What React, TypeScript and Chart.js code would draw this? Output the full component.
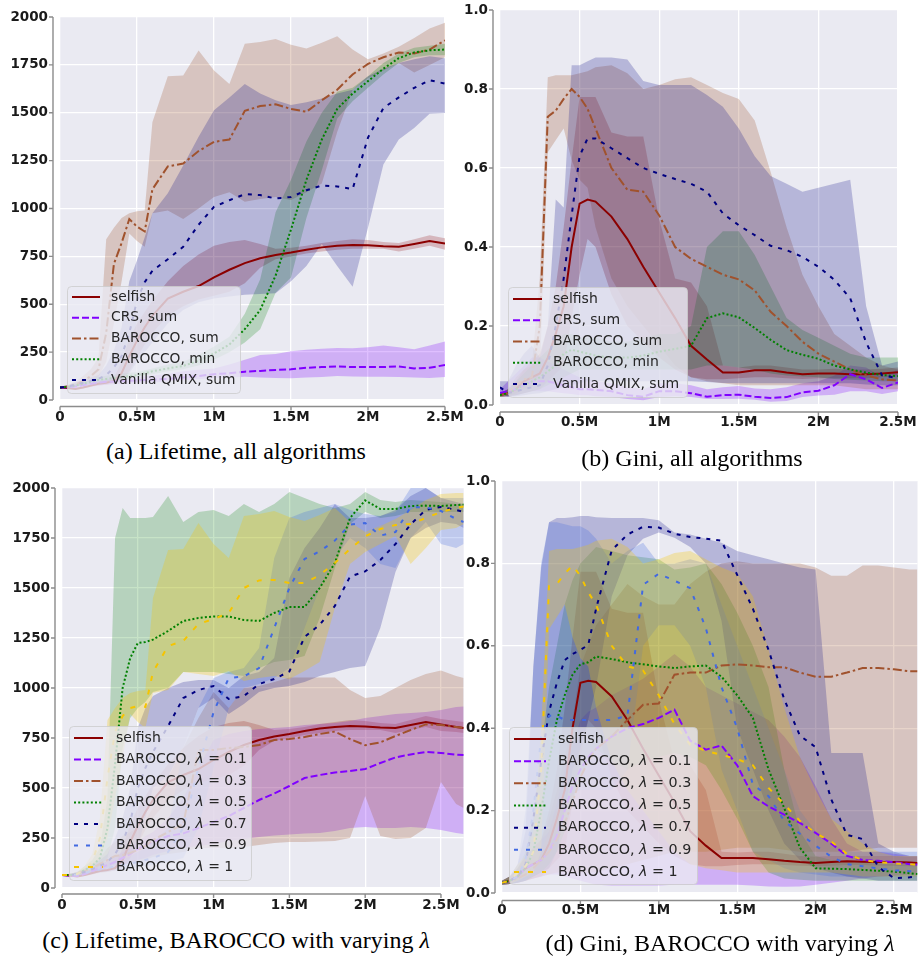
import React, { useEffect, useRef } from 'react';
import { Chart, registerables } from 'chart.js';

Chart.register(...registerables);

// ---------------- data (x in million steps) ----------------
const XS_AB = [0, 0.05, 0.1, 0.15, 0.2, 0.25, 0.3, 0.35, 0.4, 0.45, 0.5, 0.55, 0.6, 0.7, 0.8, 0.9, 1.0, 1.1, 1.2, 1.3, 1.4, 1.5, 1.6, 1.7, 1.8, 1.9, 2.0, 2.1, 2.2, 2.3, 2.4, 2.5];
const XS_CD = [0, 0.05, 0.1, 0.15, 0.2, 0.25, 0.3, 0.35, 0.4, 0.45, 0.5, 0.55, 0.6, 0.7, 0.8, 0.9, 1.0, 1.1, 1.2, 1.3, 1.4, 1.5, 1.6, 1.7, 1.8, 1.9, 2.0, 2.1, 2.2, 2.3, 2.4, 2.5, 2.6, 2.65];
const X_TICKS = [0, 0.5, 1, 1.5, 2, 2.5];
const LIFE_TICKS = [0, 250, 500, 750, 1000, 1250, 1500, 1750, 2000];
const GINI_TICKS = [0, 0.2, 0.4, 0.6, 0.8, 1.0];

const LABELS_AB = ['selfish', 'CRS, sum', 'BAROCCO, sum', 'BAROCCO, min', 'Vanilla QMIX, sum'];
const LABELS_CD = ['selfish', 'BAROCCO, λ = 0.1', 'BAROCCO, λ = 0.3', 'BAROCCO, λ = 0.5', 'BAROCCO, λ = 0.7', 'BAROCCO, λ = 0.9', 'BAROCCO, λ = 1'];
const CAPTIONS = ['(a) Lifetime, all algorithms', '(b) Gini, all algorithms', '(c) Lifetime, BAROCCO with varying λ', '(d) Gini, BAROCCO with varying λ'];

// (a) Lifetime, all algorithms
const A_SELFISH = [65, 62, 58, 65, 75, 85, 90, 100, 140, 230, 310, 380, 440, 530, 565, 595, 640, 680, 715, 740, 757, 770, 785, 797, 805, 810, 808, 803, 800, 815, 830, 817];
const A_SELFISH_LO = [62, 58, 55, 60, 68, 76, 80, 88, 100, 150, 220, 290, 350, 440, 490, 525, 545, 565, 610, 690, 735, 750, 765, 775, 785, 790, 790, 790, 775, 790, 805, 785];
const A_SELFISH_HI = [68, 66, 63, 72, 84, 95, 102, 115, 200, 320, 400, 460, 520, 620, 700, 760, 805, 825, 835, 815, 790, 795, 805, 820, 830, 840, 835, 825, 820, 840, 860, 845];
const A_CRS = [65, 67, 70, 78, 85, 90, 95, 97, 100, 100, 102, 104, 106, 110, 118, 125, 135, 140, 148, 152, 157, 160, 168, 172, 175, 172, 173, 172, 175, 165, 168, 183];
const A_CRS_LO = [62, 62, 63, 68, 72, 76, 80, 82, 85, 86, 88, 90, 92, 97, 103, 108, 115, 118, 122, 118, 115, 113, 118, 120, 125, 123, 122, 121, 120, 118, 115, 120];
const A_CRS_HI = [68, 72, 78, 88, 98, 105, 110, 113, 116, 118, 120, 124, 128, 136, 150, 158, 165, 185, 210, 235, 240, 255, 262, 268, 272, 270, 275, 285, 275, 265, 285, 305];
const A_BSUM = [65, 70, 80, 100, 125, 160, 350, 710, 820, 945, 905, 880, 1100, 1220, 1235, 1300, 1348, 1360, 1510, 1535, 1544, 1520, 1505, 1565, 1620, 1700, 1755, 1790, 1815, 1810, 1830, 1878];
const A_BSUM_LO = [62, 64, 70, 85, 100, 120, 200, 400, 620, 870, 830, 800, 975, 990, 945, 1000, 1060, 1085, 1035, 1050, 1060, 1045, 1085, 1130, 1400, 1620, 1680, 1720, 1760, 1710, 1750, 1790];
const A_BSUM_HI = [68, 78, 95, 125, 160, 220, 840, 900, 950, 975, 985, 990, 1450, 1690, 1695, 1825, 1720, 1650, 1860, 1870, 1885, 1855, 1835, 1865, 1900, 1830, 1780, 1810, 1845, 1890, 1940, 1970];
const A_BMIN = [65, 68, 75, 85, 95, 105, 110, 115, 120, 125, 130, 140, 150, 165, 178, 205, 243, 290, 370, 470, 650, 890, 1150, 1360, 1520, 1600, 1665, 1730, 1785, 1815, 1826, 1830];
const A_BMIN_LO = [62, 64, 68, 76, 84, 92, 96, 100, 104, 110, 120, 128, 135, 150, 160, 180, 210, 250, 300, 370, 560, 640, 950, 1200, 1470, 1560, 1630, 1700, 1760, 1790, 1800, 1800];
const A_BMIN_HI = [68, 72, 82, 95, 108, 120, 126, 132, 138, 142, 145, 155, 165, 185, 200, 235, 280, 330, 450, 630, 980, 1150, 1350, 1500, 1610, 1630, 1690, 1760, 1810, 1840, 1850, 1860];
const A_QMIX = [65, 70, 80, 90, 100, 110, 130, 170, 230, 350, 520, 615, 675, 735, 800, 915, 1009, 1043, 1075, 1070, 1052, 1060, 1095, 1120, 1115, 1101, 1370, 1525, 1580, 1630, 1670, 1652];
const A_QMIX_LO = [62, 64, 70, 76, 82, 88, 95, 100, 110, 140, 200, 250, 300, 400, 470, 510, 530, 540, 550, 553, 557, 620, 700, 815, 700, 591, 900, 1230, 1360, 1420, 1495, 1499];
const A_QMIX_HI = [68, 78, 92, 105, 118, 130, 180, 260, 380, 620, 730, 850, 975, 1080, 1225, 1375, 1513, 1580, 1650, 1600, 1565, 1540, 1555, 1575, 1600, 1620, 1690, 1730, 1760, 1780, 1795, 1785];

// (b) Gini, all algorithms
const B_SELFISH = [0.025, 0.03, 0.04, 0.06, 0.07, 0.08, 0.12, 0.18, 0.25, 0.40, 0.51, 0.52, 0.515, 0.477, 0.42, 0.35, 0.285, 0.22, 0.15, 0.115, 0.082, 0.082, 0.088, 0.088, 0.082, 0.078, 0.08, 0.08, 0.078, 0.078, 0.08, 0.083];
const B_SELFISH_LO = [0.02, 0.022, 0.025, 0.03, 0.035, 0.04, 0.06, 0.08, 0.1, 0.22, 0.33, 0.42, 0.40, 0.28, 0.2, 0.16, 0.12, 0.09, 0.07, 0.065, 0.065, 0.068, 0.07, 0.07, 0.068, 0.066, 0.068, 0.068, 0.068, 0.068, 0.07, 0.072];
const B_SELFISH_HI = [0.03, 0.04, 0.06, 0.09, 0.11, 0.13, 0.2, 0.3, 0.45, 0.62, 0.78, 0.78, 0.78, 0.69, 0.68, 0.68, 0.47, 0.32, 0.31, 0.25, 0.10, 0.095, 0.1, 0.1, 0.095, 0.09, 0.09, 0.092, 0.09, 0.09, 0.092, 0.095];
const B_CRS = [0.03, 0.035, 0.04, 0.05, 0.06, 0.06, 0.06, 0.055, 0.05, 0.045, 0.04, 0.04, 0.038, 0.035, 0.025, 0.021, 0.035, 0.035, 0.03, 0.021, 0.025, 0.026, 0.021, 0.018, 0.02, 0.032, 0.036, 0.05, 0.078, 0.065, 0.043, 0.057];
const B_CRS_LO = [0.02, 0.022, 0.025, 0.03, 0.035, 0.035, 0.035, 0.032, 0.03, 0.028, 0.025, 0.025, 0.022, 0.02, 0.015, 0.012, 0.02, 0.022, 0.02, 0.015, 0.015, 0.016, 0.013, 0.008, 0.01, 0.02, 0.024, 0.026, 0.035, 0.035, 0.028, 0.035];
const B_CRS_HI = [0.04, 0.06, 0.08, 0.1, 0.12, 0.12, 0.11, 0.1, 0.09, 0.08, 0.07, 0.065, 0.06, 0.055, 0.045, 0.04, 0.055, 0.055, 0.05, 0.04, 0.045, 0.048, 0.042, 0.04, 0.045, 0.055, 0.06, 0.075, 0.1, 0.095, 0.07, 0.09];
const B_BSUM = [0.025, 0.03, 0.05, 0.065, 0.07, 0.2, 0.73, 0.745, 0.775, 0.80, 0.78, 0.75, 0.70, 0.60, 0.545, 0.54, 0.48, 0.40, 0.37, 0.35, 0.33, 0.318, 0.29, 0.236, 0.20, 0.16, 0.13, 0.11, 0.09, 0.075, 0.065, 0.062];
const B_BSUM_LO = [0.02, 0.022, 0.03, 0.04, 0.045, 0.08, 0.64, 0.67, 0.7, 0.62, 0.57, 0.55, 0.45, 0.32, 0.25, 0.2, 0.15, 0.1, 0.07, 0.06, 0.055, 0.05, 0.05, 0.05, 0.05, 0.05, 0.05, 0.05, 0.045, 0.04, 0.04, 0.04];
const B_BSUM_HI = [0.03, 0.04, 0.07, 0.09, 0.1, 0.32, 0.83, 0.835, 0.835, 0.835, 0.84, 0.845, 0.855, 0.86, 0.84, 0.80, 0.81, 0.825, 0.83, 0.81, 0.79, 0.775, 0.72, 0.59, 0.45, 0.33, 0.25, 0.18, 0.15, 0.12, 0.10, 0.09];
const B_BMIN = [0.025, 0.03, 0.04, 0.05, 0.06, 0.07, 0.085, 0.1, 0.13, 0.14, 0.135, 0.13, 0.125, 0.12, 0.12, 0.125, 0.135, 0.142, 0.15, 0.22, 0.232, 0.222, 0.195, 0.165, 0.139, 0.127, 0.117, 0.1, 0.09, 0.082, 0.076, 0.073];
const B_BMIN_LO = [0.02, 0.022, 0.025, 0.03, 0.035, 0.04, 0.05, 0.06, 0.07, 0.08, 0.09, 0.09, 0.09, 0.09, 0.09, 0.09, 0.09, 0.09, 0.09, 0.1, 0.1, 0.095, 0.09, 0.08, 0.075, 0.072, 0.07, 0.066, 0.064, 0.062, 0.06, 0.06];
const B_BMIN_HI = [0.03, 0.04, 0.06, 0.08, 0.1, 0.12, 0.14, 0.16, 0.18, 0.18, 0.17, 0.17, 0.17, 0.16, 0.16, 0.17, 0.18, 0.18, 0.2, 0.40, 0.44, 0.44, 0.38, 0.3, 0.22, 0.19, 0.17, 0.15, 0.13, 0.12, 0.12, 0.12];
const B_QMIX = [0.045, 0.03, 0.035, 0.04, 0.045, 0.05, 0.1, 0.2, 0.32, 0.48, 0.63, 0.675, 0.675, 0.65, 0.625, 0.60, 0.585, 0.572, 0.56, 0.54, 0.485, 0.455, 0.43, 0.403, 0.392, 0.375, 0.35, 0.317, 0.27, 0.158, 0.075, 0.068];
const B_QMIX_LO = [0.03, 0.02, 0.022, 0.025, 0.028, 0.03, 0.035, 0.04, 0.045, 0.05, 0.055, 0.06, 0.06, 0.06, 0.06, 0.06, 0.06, 0.06, 0.06, 0.058, 0.056, 0.055, 0.055, 0.055, 0.055, 0.055, 0.055, 0.055, 0.055, 0.052, 0.05, 0.05];
const B_QMIX_HI = [0.06, 0.06, 0.1, 0.13, 0.15, 0.12, 0.2, 0.52, 0.5, 0.86, 0.86, 0.87, 0.88, 0.88, 0.875, 0.82, 0.81, 0.81, 0.81, 0.785, 0.755, 0.70, 0.63, 0.58, 0.56, 0.54, 0.55, 0.56, 0.57, 0.25, 0.10, 0.11];

// (c) Lifetime, varying lambda
const C_SELFISH = [65, 62, 58, 65, 75, 85, 90, 100, 140, 230, 310, 380, 440, 530, 565, 595, 640, 680, 715, 740, 757, 770, 785, 797, 805, 810, 808, 803, 800, 815, 830, 817, 805, 800];
const C_SELFISH_LO = [62, 58, 55, 60, 68, 76, 80, 88, 100, 150, 220, 290, 350, 440, 490, 525, 545, 565, 610, 690, 735, 750, 765, 775, 785, 790, 790, 790, 775, 790, 805, 785, 780, 775];
const C_SELFISH_HI = [68, 66, 63, 72, 84, 95, 102, 115, 200, 320, 400, 460, 520, 620, 700, 760, 805, 825, 835, 815, 790, 795, 805, 820, 830, 840, 835, 825, 820, 840, 860, 845, 835, 830];
const C_L01 = [65, 62, 60, 70, 85, 100, 115, 130, 150, 170, 195, 215, 230, 260, 273, 300, 330, 360, 400, 440, 472, 510, 550, 565, 577, 585, 595, 625, 653, 668, 680, 675, 667, 665];
const C_L01_LO = [62, 58, 55, 62, 72, 82, 95, 105, 115, 125, 140, 150, 165, 185, 200, 210, 220, 235, 245, 255, 262, 268, 272, 275, 285, 300, 305, 300, 300, 305, 300, 290, 275, 270];
const C_L01_HI = [68, 66, 66, 78, 98, 118, 135, 155, 180, 200, 230, 260, 280, 350, 450, 600, 740, 770, 785, 795, 800, 805, 815, 820, 825, 835, 850, 860, 870, 875, 880, 890, 905, 908];
const C_L03 = [65, 65, 70, 85, 100, 120, 140, 160, 165, 175, 190, 210, 240, 280, 320, 690, 690, 700, 705, 715, 740, 745, 755, 770, 782, 745, 714, 728, 760, 790, 818, 815, 805, 800];
const C_L03_LO = [62, 60, 62, 72, 82, 95, 105, 115, 120, 125, 130, 140, 155, 170, 180, 200, 200, 200, 205, 215, 225, 230, 230, 232, 235, 250, 460, 260, 245, 250, 300, 530, 420, 400];
const C_L03_HI = [68, 70, 80, 100, 125, 150, 200, 230, 260, 280, 300, 340, 400, 550, 700, 850, 980, 900, 1000, 1010, 1030, 1052, 1052, 1052, 1052, 990, 950, 960, 1000, 1040, 1070, 1087, 1060, 1050];
const C_L05 = [65, 65, 70, 90, 110, 150, 300, 620, 1000, 1150, 1225, 1230, 1242, 1285, 1335, 1350, 1358, 1358, 1340, 1335, 1375, 1405, 1405, 1500, 1625, 1850, 1938, 1895, 1895, 1910, 1912, 1910, 1915, 1917];
const C_L05_LO = [62, 60, 62, 75, 88, 110, 150, 300, 700, 850, 900, 930, 980, 1000, 1080, 1080, 1080, 1070, 1060, 1100, 1130, 1140, 1160, 1350, 1600, 1820, 1880, 1850, 1860, 1880, 1880, 1880, 1880, 1880];
const C_L05_HI = [68, 70, 80, 110, 140, 200, 450, 1750, 1900, 1850, 1850, 1850, 1855, 1960, 1830, 1880, 1890, 1860, 1920, 1880, 1920, 1980, 1950, 1920, 1900, 1920, 1980, 1940, 1930, 1940, 1935, 1930, 1920, 1920];
const C_L07 = [65, 65, 70, 80, 95, 110, 130, 170, 230, 330, 500, 600, 680, 810, 950, 990, 1010, 945, 960, 1020, 1045, 1083, 1255, 1316, 1410, 1557, 1583, 1640, 1720, 1818, 1891, 1905, 1890, 1880];
const C_L07_LO = [62, 60, 62, 68, 78, 88, 100, 120, 150, 180, 200, 350, 500, 560, 700, 900, 950, 870, 920, 980, 1000, 1010, 1030, 1060, 1080, 1100, 1110, 1300, 1580, 1750, 1800, 1830, 1820, 1800];
const C_L07_HI = [68, 70, 80, 95, 115, 140, 170, 250, 350, 500, 800, 900, 960, 1000, 1030, 1040, 1040, 1000, 1060, 1080, 1150, 1550, 1700, 1800, 1920, 1850, 1850, 1860, 1890, 1960, 2000, 1950, 1930, 1920];
const C_L09 = [65, 65, 68, 75, 85, 92, 100, 108, 115, 122, 130, 140, 150, 180, 300, 600, 880, 1050, 1058, 1100, 1300, 1500, 1645, 1683, 1737, 1817, 1825, 1762, 1780, 1905, 1903, 1885, 1845, 1830];
const C_L09_LO = [62, 60, 62, 66, 72, 78, 82, 88, 92, 98, 104, 110, 116, 130, 150, 300, 600, 900, 1000, 1020, 1050, 1100, 1300, 1500, 1650, 1750, 1700, 1620, 1600, 1750, 1830, 1720, 1700, 1720];
const C_L09_HI = [68, 70, 75, 85, 98, 108, 118, 128, 140, 160, 180, 200, 230, 300, 700, 900, 1050, 1080, 1100, 1200, 1650, 1850, 1880, 1900, 1920, 1890, 1870, 1860, 1880, 2000, 2000, 1950, 1950, 1950];
const C_L1 = [65, 65, 70, 90, 130, 250, 550, 780, 860, 900, 910, 905, 1080, 1210, 1235, 1320, 1345, 1375, 1500, 1538, 1540, 1525, 1525, 1565, 1625, 1695, 1758, 1795, 1815, 1820, 1850, 1880, 1900, 1908];
const C_L1_LO = [62, 62, 64, 75, 100, 150, 250, 450, 650, 870, 830, 800, 975, 990, 1080, 1070, 1060, 1085, 1035, 1050, 1060, 1045, 1085, 1130, 1400, 1620, 1680, 1720, 1760, 1620, 1700, 1790, 1800, 1820];
const C_L1_HI = [68, 70, 80, 110, 170, 350, 840, 900, 950, 975, 985, 990, 1450, 1690, 1695, 1825, 1720, 1650, 1860, 1870, 1885, 1855, 1835, 1865, 1900, 1830, 1780, 1810, 1845, 1890, 1940, 1970, 1975, 1975];

// (d) Gini, varying lambda
const D_SELFISH = [0.025, 0.03, 0.04, 0.06, 0.07, 0.08, 0.12, 0.18, 0.25, 0.40, 0.51, 0.515, 0.512, 0.477, 0.42, 0.35, 0.285, 0.22, 0.15, 0.115, 0.085, 0.085, 0.085, 0.082, 0.078, 0.075, 0.073, 0.075, 0.077, 0.076, 0.075, 0.075, 0.074, 0.073];
const D_SELFISH_LO = [0.02, 0.022, 0.025, 0.03, 0.035, 0.04, 0.06, 0.08, 0.1, 0.22, 0.33, 0.42, 0.40, 0.28, 0.2, 0.16, 0.12, 0.09, 0.07, 0.065, 0.065, 0.068, 0.07, 0.07, 0.068, 0.066, 0.065, 0.066, 0.068, 0.068, 0.066, 0.066, 0.065, 0.065];
const D_SELFISH_HI = [0.03, 0.04, 0.06, 0.09, 0.11, 0.13, 0.2, 0.3, 0.45, 0.62, 0.78, 0.78, 0.78, 0.69, 0.68, 0.68, 0.47, 0.32, 0.31, 0.25, 0.10, 0.098, 0.1, 0.1, 0.095, 0.09, 0.088, 0.09, 0.09, 0.09, 0.09, 0.09, 0.088, 0.088];
const D_L01 = [0.025, 0.03, 0.04, 0.06, 0.07, 0.08, 0.1, 0.14, 0.2, 0.26, 0.3, 0.33, 0.35, 0.38, 0.40, 0.41, 0.425, 0.445, 0.37, 0.348, 0.358, 0.31, 0.235, 0.21, 0.19, 0.17, 0.146, 0.12, 0.09, 0.08, 0.078, 0.075, 0.07, 0.069];
const D_L01_LO = [0.02, 0.022, 0.025, 0.03, 0.035, 0.04, 0.045, 0.045, 0.04, 0.035, 0.03, 0.025, 0.02, 0.018, 0.018, 0.018, 0.018, 0.02, 0.02, 0.02, 0.02, 0.02, 0.018, 0.016, 0.015, 0.016, 0.02, 0.025, 0.03, 0.035, 0.04, 0.042, 0.045, 0.045];
const D_L01_HI = [0.03, 0.04, 0.06, 0.09, 0.11, 0.13, 0.15, 0.22, 0.3, 0.36, 0.42, 0.44, 0.45, 0.48, 0.5, 0.52, 0.55, 0.58, 0.55, 0.5, 0.48, 0.46, 0.44, 0.42, 0.38, 0.33, 0.26, 0.18, 0.12, 0.1, 0.1, 0.095, 0.09, 0.09];
const D_L03 = [0.025, 0.03, 0.035, 0.045, 0.06, 0.08, 0.1, 0.13, 0.17, 0.22, 0.28, 0.32, 0.35, 0.38, 0.42, 0.457, 0.46, 0.53, 0.535, 0.535, 0.552, 0.555, 0.552, 0.548, 0.548, 0.535, 0.525, 0.525, 0.535, 0.546, 0.546, 0.543, 0.538, 0.538];
const D_L03_LO = [0.02, 0.022, 0.025, 0.03, 0.035, 0.04, 0.045, 0.05, 0.05, 0.05, 0.05, 0.05, 0.05, 0.06, 0.07, 0.08, 0.09, 0.1, 0.1, 0.1, 0.105, 0.11, 0.11, 0.11, 0.105, 0.1, 0.1, 0.1, 0.1, 0.105, 0.11, 0.11, 0.11, 0.11];
const D_L03_HI = [0.03, 0.04, 0.05, 0.07, 0.09, 0.13, 0.18, 0.25, 0.33, 0.42, 0.55, 0.6, 0.65, 0.7, 0.75, 0.72, 0.7, 0.7, 0.75, 0.78, 0.8, 0.805, 0.8, 0.8, 0.8, 0.8, 0.79, 0.77, 0.77, 0.795, 0.795, 0.79, 0.785, 0.785];
const D_L05 = [0.025, 0.03, 0.04, 0.06, 0.1, 0.2, 0.32, 0.42, 0.48, 0.53, 0.555, 0.56, 0.574, 0.568, 0.56, 0.555, 0.55, 0.546, 0.55, 0.552, 0.525, 0.48, 0.425, 0.30, 0.206, 0.11, 0.06, 0.059, 0.058, 0.056, 0.054, 0.052, 0.048, 0.046];
const D_L05_LO = [0.02, 0.022, 0.025, 0.03, 0.04, 0.05, 0.07, 0.1, 0.15, 0.22, 0.28, 0.32, 0.35, 0.32, 0.3, 0.32, 0.33, 0.34, 0.33, 0.31, 0.25, 0.18, 0.1, 0.05, 0.035, 0.032, 0.03, 0.03, 0.03, 0.03, 0.03, 0.03, 0.03, 0.03];
const D_L05_HI = [0.03, 0.04, 0.06, 0.1, 0.18, 0.35, 0.5, 0.6, 0.7, 0.76, 0.8, 0.82, 0.84, 0.83, 0.82, 0.815, 0.81, 0.785, 0.79, 0.8, 0.75, 0.68, 0.6, 0.5, 0.3, 0.15, 0.09, 0.08, 0.075, 0.075, 0.072, 0.07, 0.07, 0.07];
const D_L07 = [0.025, 0.03, 0.04, 0.07, 0.18, 0.32, 0.44, 0.51, 0.565, 0.58, 0.59, 0.602, 0.69, 0.832, 0.87, 0.889, 0.887, 0.872, 0.864, 0.86, 0.855, 0.772, 0.69, 0.59, 0.47, 0.382, 0.354, 0.227, 0.141, 0.131, 0.063, 0.036, 0.038, 0.04];
const D_L07_LO = [0.02, 0.022, 0.025, 0.03, 0.04, 0.05, 0.06, 0.1, 0.2, 0.3, 0.35, 0.42, 0.5, 0.72, 0.82, 0.86, 0.875, 0.862, 0.84, 0.8, 0.66, 0.4, 0.3, 0.2, 0.12, 0.08, 0.06, 0.05, 0.04, 0.035, 0.03, 0.03, 0.03, 0.03];
const D_L07_HI = [0.03, 0.04, 0.07, 0.15, 0.55, 0.79, 0.9, 0.91, 0.91, 0.912, 0.915, 0.915, 0.912, 0.91, 0.91, 0.91, 0.905, 0.875, 0.87, 0.86, 0.85, 0.83, 0.82, 0.81, 0.80, 0.79, 0.785, 0.34, 0.34, 0.34, 0.12, 0.1, 0.09, 0.09];
const D_L09 = [0.025, 0.03, 0.04, 0.08, 0.2, 0.38, 0.43, 0.43, 0.42, 0.42, 0.42, 0.42, 0.42, 0.42, 0.43, 0.748, 0.775, 0.758, 0.74, 0.643, 0.50, 0.40, 0.263, 0.235, 0.175, 0.144, 0.115, 0.088, 0.07, 0.065, 0.06, 0.055, 0.053, 0.053];
const D_L09_LO = [0.02, 0.022, 0.025, 0.03, 0.06, 0.1, 0.15, 0.2, 0.22, 0.24, 0.25, 0.25, 0.25, 0.25, 0.3, 0.6, 0.65, 0.65, 0.6, 0.5, 0.3, 0.2, 0.1, 0.08, 0.06, 0.05, 0.045, 0.04, 0.04, 0.04, 0.04, 0.04, 0.04, 0.04];
const D_L09_HI = [0.03, 0.04, 0.07, 0.2, 0.55, 0.8, 0.9, 0.9, 0.895, 0.89, 0.89, 0.88, 0.86, 0.8, 0.83, 0.85, 0.80, 0.80, 0.81, 0.8, 0.7, 0.6, 0.5, 0.4, 0.3, 0.2, 0.15, 0.12, 0.1, 0.1, 0.1, 0.1, 0.1, 0.1];
const D_L1 = [0.025, 0.03, 0.05, 0.065, 0.1, 0.3, 0.745, 0.75, 0.775, 0.795, 0.77, 0.73, 0.70, 0.60, 0.55, 0.54, 0.48, 0.41, 0.36, 0.345, 0.335, 0.325, 0.31, 0.255, 0.215, 0.175, 0.145, 0.125, 0.095, 0.08, 0.075, 0.072, 0.07, 0.069];
const D_L1_LO = [0.02, 0.022, 0.03, 0.04, 0.05, 0.1, 0.64, 0.67, 0.7, 0.62, 0.57, 0.55, 0.45, 0.32, 0.25, 0.2, 0.15, 0.1, 0.07, 0.06, 0.055, 0.05, 0.05, 0.05, 0.05, 0.05, 0.05, 0.05, 0.045, 0.04, 0.04, 0.04, 0.04, 0.04];
const D_L1_HI = [0.03, 0.04, 0.07, 0.09, 0.15, 0.4, 0.83, 0.835, 0.835, 0.835, 0.84, 0.845, 0.855, 0.86, 0.84, 0.80, 0.81, 0.825, 0.83, 0.81, 0.79, 0.775, 0.72, 0.59, 0.45, 0.33, 0.25, 0.18, 0.15, 0.12, 0.10, 0.09, 0.09, 0.09];

// ---------------- styles ----------------
type Style = { color: string; band: string; dash: number[] };
const ST_SELFISH: Style = { color: '#8B0000', band: 'rgba(139,0,0,0.22)', dash: [] };
const ST_VIOLET: Style = { color: '#8000FF', band: 'rgba(128,0,255,0.25)', dash: [7, 3] };
const ST_BROWN: Style = { color: '#A0522D', band: 'rgba(160,82,45,0.25)', dash: [9, 3, 2.5, 3] };
const ST_GREEN: Style = { color: '#008000', band: 'rgba(0,128,0,0.22)', dash: [2, 2.2] };
const ST_NAVY: Style = { color: '#000080', band: 'rgba(0,0,128,0.22)', dash: [4, 6] };
const ST_ROYAL: Style = { color: '#4169E1', band: 'rgba(65,105,225,0.25)', dash: [4, 8] };
const ST_GOLD: Style = { color: '#F5C400', band: 'rgba(245,196,0,0.28)', dash: [5, 9] };

type PanelCfg = {
  xs: number[]; xMax: number;
  means: number[][]; los: number[][]; his: number[][];
  labels: string[]; styles: Style[];
  yTicks: number[]; yFmt: (v: number) => string;
  canvas: { left: number; top: number; w: number; h: number };
  area: { l: number; t: number; r: number; b: number };
  spine: { dx: number; dy: number };
  legend: { x: number; y: number; w: number; h: number; row0: number; dy: number; s0: number; s1: number; tx: number; fs: number };
};

const lifeFmt = (v: number) => String(v);
const giniFmt = (v: number) => v.toFixed(1);

const PANELS: PanelCfg[] = [
  {
    xs: XS_AB, xMax: 2.5,
    means: [A_SELFISH, A_CRS, A_BSUM, A_BMIN, A_QMIX],
    los: [A_SELFISH_LO, A_CRS_LO, A_BSUM_LO, A_BMIN_LO, A_QMIX_LO],
    his: [A_SELFISH_HI, A_CRS_HI, A_BSUM_HI, A_BMIN_HI, A_QMIX_HI],
    labels: LABELS_AB, styles: [ST_SELFISH, ST_VIOLET, ST_BROWN, ST_GREEN, ST_NAVY],
    yTicks: LIFE_TICKS, yFmt: lifeFmt,
    canvas: { left: 0, top: 0, w: 470, h: 430 },
    area: { l: 60, t: 17, r: 445, b: 400 },
    spine: { dx: 7, dy: 6.5 },
    legend: { x: 67, y: 286, w: 173, h: 107, row0: 297, dy: 20.75, s0: 72, s1: 100, tx: 111, fs: 13.8 },
  },
  {
    xs: XS_AB, xMax: 2.5,
    means: [B_SELFISH, B_CRS, B_BSUM, B_BMIN, B_QMIX],
    los: [B_SELFISH_LO, B_CRS_LO, B_BSUM_LO, B_BMIN_LO, B_QMIX_LO],
    his: [B_SELFISH_HI, B_CRS_HI, B_BSUM_HI, B_BMIN_HI, B_QMIX_HI],
    labels: LABELS_AB, styles: [ST_SELFISH, ST_VIOLET, ST_BROWN, ST_GREEN, ST_NAVY],
    yTicks: GINI_TICKS, yFmt: giniFmt,
    canvas: { left: 460, top: 0, w: 460, h: 435 },
    area: { l: 500, t: 10, r: 898, b: 405 },
    spine: { dx: 7, dy: 7 },
    legend: { x: 508, y: 287, w: 179, h: 110, row0: 299, dy: 21.25, s0: 513, s1: 542, tx: 553, fs: 14 },
  },
  {
    xs: XS_CD, xMax: 2.65,
    means: [C_SELFISH, C_L01, C_L03, C_L05, C_L07, C_L09, C_L1],
    los: [C_SELFISH_LO, C_L01_LO, C_L03_LO, C_L05_LO, C_L07_LO, C_L09_LO, C_L1_LO],
    his: [C_SELFISH_HI, C_L01_HI, C_L03_HI, C_L05_HI, C_L07_HI, C_L09_HI, C_L1_HI],
    labels: LABELS_CD, styles: [ST_SELFISH, ST_VIOLET, ST_BROWN, ST_GREEN, ST_NAVY, ST_ROYAL, ST_GOLD],
    yTicks: LIFE_TICKS, yFmt: lifeFmt,
    canvas: { left: 0, top: 475, w: 464, h: 443 },
    area: { l: 62, t: 488, r: 463.7, b: 888 },
    spine: { dx: 7, dy: 6 },
    legend: { x: 69, y: 726, w: 182, h: 154, row0: 738, dy: 21.5, s0: 74, s1: 103, tx: 116, fs: 14 },
  },
  {
    xs: XS_CD, xMax: 2.65,
    means: [D_SELFISH, D_L01, D_L03, D_L05, D_L07, D_L09, D_L1],
    los: [D_SELFISH_LO, D_L01_LO, D_L03_LO, D_L05_LO, D_L07_LO, D_L09_LO, D_L1_LO],
    his: [D_SELFISH_HI, D_L01_HI, D_L03_HI, D_L05_HI, D_L07_HI, D_L09_HI, D_L1_HI],
    labels: LABELS_CD, styles: [ST_SELFISH, ST_VIOLET, ST_BROWN, ST_GREEN, ST_NAVY, ST_ROYAL, ST_GOLD],
    yTicks: GINI_TICKS, yFmt: giniFmt,
    canvas: { left: 463, top: 475, w: 457, h: 448 },
    area: { l: 502, t: 481, r: 917.5, b: 893 },
    spine: { dx: 7, dy: 7.5 },
    legend: { x: 509, y: 727, w: 188, h: 157, row0: 739, dy: 22.17, s0: 514, s1: 546, tx: 558, fs: 14.3 },
  },
];

const CAPTION_POS = [
  { cx: 236, top: 439 },
  { cx: 692, top: 446 },
  { cx: 236, top: 927.5 },
  { cx: 720, top: 930.5 },
];

const TICK_FONT = { family: '"DejaVu Sans"', size: 13.5, weight: 'bold' as const };

function buildConfig(cfg: PanelCfg): any {
  const c = cfg.canvas, a = cfg.area;
  const yAxisW = a.l - c.left;
  const padTop = a.t - c.top;
  const padRight = c.left + c.w - a.r;
  const padBottom = c.top + c.h - a.b - 30;

  const datasets: any[] = [];
  cfg.means.forEach((_, i) => {
    const loIdx = datasets.length;
    const st = cfg.styles[i];
    datasets.push({
      label: '_lo', data: cfg.xs.map((x, k) => ({ x, y: cfg.los[i][k] })),
      borderColor: 'rgba(0,0,0,0)', borderWidth: 0, pointRadius: 0, fill: false, order: 100 - i,
    });
    datasets.push({
      label: '_hi', data: cfg.xs.map((x, k) => ({ x, y: cfg.his[i][k] })),
      borderColor: 'rgba(0,0,0,0)', borderWidth: 0, pointRadius: 0,
      fill: { target: loIdx, above: st.band, below: st.band }, backgroundColor: st.band, order: 100 - i,
    });
  });
  cfg.means.forEach((m, i) => {
    const st = cfg.styles[i];
    datasets.push({
      label: cfg.labels[i], data: cfg.xs.map((x, k) => ({ x, y: m[k] })),
      borderColor: st.color, borderWidth: 2, borderDash: st.dash, pointRadius: 0, fill: false,
      tension: 0, order: -i,
    });
  });

  const bgPlugin = {
    id: 'panelBg',
    beforeDraw(chart: any) {
      const { ctx, chartArea: ca } = chart;
      ctx.save();
      ctx.fillStyle = '#EAEAF2';
      ctx.fillRect(ca.left, ca.top, ca.right - ca.left, ca.bottom - ca.top);
      ctx.restore();
    },
  };

  const spinePlugin = {
    id: 'panelSpines',
    afterDraw(chart: any) {
      const { ctx, chartArea: ca, scales } = chart;
      const xs = scales.x, ys = scales.y;
      ctx.save();
      ctx.strokeStyle = '#8c8c8c';
      ctx.lineWidth = 1.4;
      ctx.setLineDash([]);
      ctx.beginPath();
      const sx = ca.left - cfg.spine.dx;
      const yTop = ys.getPixelForValue(cfg.yTicks[cfg.yTicks.length - 1]);
      const yBot = ys.getPixelForValue(cfg.yTicks[0]);
      ctx.moveTo(sx, yTop); ctx.lineTo(sx, yBot);
      cfg.yTicks.forEach((v) => { const p = ys.getPixelForValue(v); ctx.moveTo(sx - 4, p); ctx.lineTo(sx, p); });
      const sy = ca.bottom + cfg.spine.dy;
      const xL = xs.getPixelForValue(X_TICKS[0]);
      const xR = xs.getPixelForValue(X_TICKS[X_TICKS.length - 1]);
      ctx.moveTo(xL, sy); ctx.lineTo(xR, sy);
      X_TICKS.forEach((v) => { const p = xs.getPixelForValue(v); ctx.moveTo(p, sy); ctx.lineTo(p, sy + 4); });
      ctx.stroke();
      ctx.restore();
    },
  };

  const legendPlugin = {
    id: 'panelLegend',
    afterDraw(chart: any) {
      const { ctx } = chart;
      const L = cfg.legend, ox = cfg.canvas.left, oy = cfg.canvas.top;
      ctx.save();
      ctx.beginPath();
      ctx.roundRect(L.x - ox + 0.5, L.y - oy + 0.5, L.w, L.h, 4);
      ctx.fillStyle = 'rgba(234,234,242,0.8)';
      ctx.fill();
      ctx.strokeStyle = 'rgba(204,204,204,0.8)';
      ctx.lineWidth = 1;
      ctx.stroke();
      cfg.labels.forEach((lab, i) => {
        const st = cfg.styles[i];
        const yy = L.row0 + i * L.dy - oy;
        ctx.beginPath();
        ctx.setLineDash(st.dash);
        ctx.strokeStyle = st.color;
        ctx.lineWidth = 2;
        ctx.moveTo(L.s0 - ox, yy);
        ctx.lineTo(L.s1 - ox, yy);
        ctx.stroke();
        ctx.setLineDash([]);
        ctx.fillStyle = '#262626';
        ctx.textBaseline = 'middle';
        ctx.textAlign = 'left';
        const normal = `${L.fs}px "DejaVu Sans"`;
        const ital = `italic ${L.fs}px "DejaVu Sans"`;
        let tx = L.tx - ox;
        lab.split('λ').forEach((p, k) => {
          if (k > 0) {
            ctx.font = ital;
            ctx.fillText('λ', tx, yy);
            tx += ctx.measureText('λ').width;
          }
          ctx.font = normal;
          ctx.fillText(p, tx, yy);
          tx += ctx.measureText(p).width;
        });
      });
      ctx.restore();
    },
  };

  return {
    type: 'line',
    data: { datasets },
    plugins: [bgPlugin, spinePlugin, legendPlugin],
    options: {
      responsive: false,
      animation: false,
      events: [],
      layout: { padding: { left: 0, top: padTop, right: padRight, bottom: padBottom } },
      plugins: { legend: { display: false }, tooltip: { enabled: false } },
      scales: {
        x: {
          type: 'linear', min: 0, max: cfg.xMax,
          afterBuildTicks: (s: any) => { s.ticks = X_TICKS.map((v) => ({ value: v })); },
          afterFit: (s: any) => { s.height = 30; s.paddingLeft = 0; s.paddingRight = 0; },
          ticks: {
            autoSkip: false, maxRotation: 0, minRotation: 0, padding: 9, color: '#1a1a1a', font: TICK_FONT,
            callback: (v: any) => (Number(v) === 0 ? '0' : `${v}M`),
          },
          grid: { color: '#ffffff', lineWidth: 1.3, drawTicks: false },
          border: { display: false },
        },
        y: {
          type: 'linear', min: cfg.yTicks[0], max: cfg.yTicks[cfg.yTicks.length - 1],
          afterBuildTicks: (s: any) => { s.ticks = cfg.yTicks.map((v) => ({ value: v })); },
          afterFit: (s: any) => { s.width = yAxisW; s.paddingTop = 0; s.paddingBottom = 0; },
          ticks: { padding: 12, color: '#1a1a1a', font: TICK_FONT, callback: (v: any) => cfg.yFmt(Number(v)) },
          grid: { color: '#ffffff', lineWidth: 1.3, drawTicks: false },
          border: { display: false },
        },
      },
    },
  };
}

function Panel({ cfg }: { cfg: PanelCfg }) {
  const ref = useRef<HTMLCanvasElement>(null);
  useEffect(() => {
    const canvas = ref.current;
    if (!canvas) return;
    const chart = new Chart(canvas, buildConfig(cfg));
    return () => chart.destroy();
  }, [cfg]);
  const c = cfg.canvas;
  return (
    <canvas
      ref={ref}
      width={c.w}
      height={c.h}
      style={{ position: 'absolute', left: c.left, top: c.top, width: c.w, height: c.h }}
    />
  );
}

function Caption({ text, cx, top }: { text: string; cx: number; top: number }) {
  const parts = text.split('λ');
  return (
    <div
      style={{
        position: 'absolute', left: cx - 230, top, width: 460, textAlign: 'center',
        fontFamily: '"Liberation Serif", "Times New Roman", serif', fontSize: 24, lineHeight: '24px',
        color: '#000', whiteSpace: 'nowrap',
      }}
    >
      {parts.map((p, k) => (
        <React.Fragment key={k}>
          {k > 0 && <i>λ</i>}
          {p}
        </React.Fragment>
      ))}
    </div>
  );
}

export default function App() {
  return (
    <div style={{ position: 'absolute', left: 0, top: 0, width: 920, height: 960, background: '#fff', overflow: 'hidden' }}>
      {PANELS.map((p, i) => (
        <Panel key={i} cfg={p} />
      ))}
      {CAPTIONS.map((t, i) => (
        <Caption key={i} text={t} cx={CAPTION_POS[i].cx} top={CAPTION_POS[i].top} />
      ))}
    </div>
  );
}
